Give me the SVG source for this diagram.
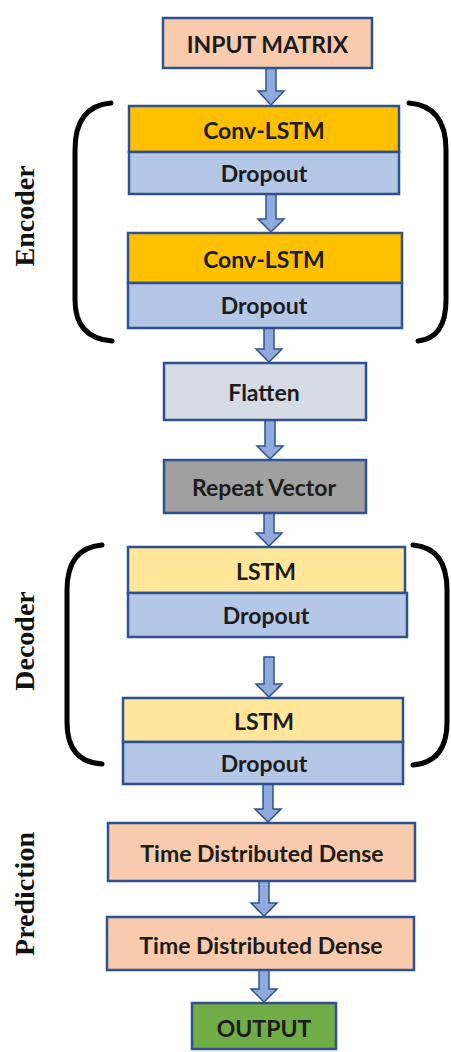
<svg xmlns="http://www.w3.org/2000/svg" width="451" height="1052" viewBox="0 0 451 1052">
<style>
.box{stroke:#2f528f;stroke-width:2.5}
.t{font-family:Lato,"Open Sans",sans-serif;font-weight:bold;font-size:23px;fill:#1c1c1c;text-anchor:middle;dominant-baseline:central}
.lbl{font-family:"Liberation Serif","Times New Roman",serif;font-weight:bold;font-size:28px;fill:#111;text-anchor:middle}
.br{fill:none;stroke:#000;stroke-width:5;stroke-linecap:round}
.ar{fill:#8faadc;stroke:#2f528f;stroke-width:1.5;stroke-linejoin:miter}
</style>
<rect width="451" height="1052" fill="#fff"/>
<g id="brackets">
<path class="br" d="M111,103 Q75,106 75,150 L75,300 Q75,338 112,341"/>
<path class="br" d="M409,103 Q446,106 446,150 L446,300 Q446,338 418,341"/>
<path class="br" d="M102,545 Q67,548 67,590 L67,722 Q67,762 102,764"/>
<path class="br" d="M413,545 Q447,548 447,590 L447,722 Q447,762 413,765"/>
</g>
<g id="labels">
<text class="lbl" transform="translate(34,216) rotate(-90)">Encoder</text>
<text class="lbl" transform="translate(34,641) rotate(-90)">Decoder</text>
<text class="lbl" transform="translate(34,894) rotate(-90)">Prediction</text>
</g>
<g id="connectors">
<path class="ar" d="M266,68 L276,68 L276,91 L284,91 L271,105 L258,91 L266,91 Z"/>
<path class="ar" d="M266,194 L276,194 L276,219 L284,219 L271,232 L258,219 L266,219 Z"/>
<path class="ar" d="M264,328 L274,328 L274,349 L282,349 L269,362 L256,349 L264,349 Z"/>
<path class="ar" d="M265,420 L275,420 L275,446 L283,446 L270,459 L257,446 L265,446 Z"/>
<path class="ar" d="M264,513 L274,513 L274,533 L282,533 L269,546 L256,533 L264,533 Z"/>
<path class="ar" d="M264,657 L274,657 L274,684 L282,684 L269,697 L256,684 L264,684 Z"/>
<path class="ar" d="M263,784 L273,784 L273,809 L281,809 L268,822 L255,809 L263,809 Z"/>
<path class="ar" d="M259,881 L269,881 L269,903 L277,903 L264,916 L251,903 L259,903 Z"/>
<path class="ar" d="M259,970 L269,970 L269,989 L277,989 L264,1002 L251,989 L259,989 Z"/>
</g>
<g id="input">
<rect class="box" x="163" y="18" width="209" height="50" fill="#f8cbad"/>
<text class="t" x="267.5" y="44">INPUT MATRIX</text>
</g>
<g id="convlstm1">
<rect class="box" x="129" y="106" width="270" height="46" fill="#ffc000"/>
<text class="t" x="264" y="130">Conv-LSTM</text>
</g>
<g id="dropout1">
<rect class="box" x="129" y="152" width="270" height="42" fill="#b4c7e7"/>
<text class="t" x="264" y="173">Dropout</text>
</g>
<g id="convlstm2">
<rect class="box" x="128" y="233" width="274" height="50" fill="#ffc000"/>
<text class="t" x="264" y="259">Conv-LSTM</text>
</g>
<g id="dropout2">
<rect class="box" x="128" y="283" width="274" height="45" fill="#b4c7e7"/>
<text class="t" x="264" y="305">Dropout</text>
</g>
<g id="flatten">
<rect class="box" x="164" y="363" width="202" height="57" fill="#d6dce5"/>
<text class="t" x="264" y="392">Flatten</text>
</g>
<g id="repeat">
<rect class="box" x="164" y="460" width="202" height="53" fill="#a0a0a0"/>
<text class="t" x="264" y="487">Repeat Vector</text>
</g>
<g id="lstm1">
<rect class="box" x="128" y="547" width="277" height="46" fill="#ffe699"/>
<text class="t" x="266" y="571">LSTM</text>
</g>
<g id="dropout3">
<rect class="box" x="128" y="593" width="279" height="44" fill="#b4c7e7"/>
<text class="t" x="266" y="615">Dropout</text>
</g>
<g id="lstm2">
<rect class="box" x="123" y="698" width="280" height="44" fill="#ffe699"/>
<text class="t" x="264" y="721">LSTM</text>
</g>
<g id="dropout4">
<rect class="box" x="123" y="742" width="280" height="42" fill="#b4c7e7"/>
<text class="t" x="264" y="763">Dropout</text>
</g>
<g id="tdd1">
<rect class="box" x="108" y="823" width="307" height="58" fill="#f8cbad"/>
<text class="t" x="262" y="853">Time Distributed Dense</text>
</g>
<g id="tdd2">
<rect class="box" x="107" y="917" width="307" height="53" fill="#f8cbad"/>
<text class="t" x="261" y="945">Time Distributed Dense</text>
</g>
<g id="output">
<rect class="box" x="192" y="1003" width="144" height="46" fill="#70ad47"/>
<text class="t" x="264" y="1028">OUTPUT</text>
</g>
</svg>
